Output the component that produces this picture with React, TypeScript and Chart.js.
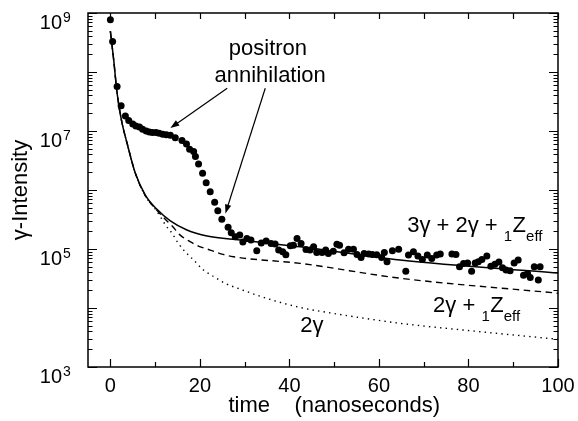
import React, { useEffect, useRef } from 'react';
import { Chart, registerables } from 'chart.js';

Chart.register(...registerables);

// ---- data (time in ns, gamma intensity) ----
const measuredTimes = [0.0, 0.5, 1.5, 2.4, 3.35, 4.1, 5.0, 5.7, 6.5, 7.2, 8.0, 8.7, 9.4, 10.2, 10.9, 11.7, 12.5, 13.4, 14.5, 16.0, 17.0, 17.7, 18.6, 19.0, 19.7, 20.6, 21.4, 22.3, 23.3, 24.0, 24.9, 26.3, 27.0, 27.9, 28.9, 29.6, 30.5, 31.4, 32.7, 33.7, 34.8, 35.9, 36.8, 37.6, 38.5, 39.2, 40.2, 40.9, 41.7, 42.6, 43.7, 44.6, 45.4, 46.1, 47.3, 48.1, 48.7, 49.8, 50.6, 51.2, 52.2, 53.2, 54.3, 55.1, 56.0, 56.7, 57.7, 58.5, 59.5, 60.6, 61.2, 61.8, 63.0, 64.4, 66.0, 66.6, 67.7, 68.7, 69.7, 70.8, 71.8, 72.9, 73.7, 76.3, 77.2, 78.0, 78.9, 79.8, 80.7, 81.5, 82.2, 83.0, 84.1, 85.0, 85.9, 86.8, 87.6, 88.4, 89.3, 90.2, 91.1, 92.3, 93.2, 93.8, 94.7, 95.6, 96.0];
const measuredIntensity = [7.7e8, 3.3e8, 5.7e7, 2.67e7, 1.8e7, 1.5e7, 1.32e7, 1.22e7, 1.17e7, 1.07e7, 1.0e7, 9.66e6, 9.4e6, 9.4e6, 9.2e6, 8.8e6, 8.6e6, 8.5e6, 7.7e6, 6.9e6, 6.0e6, 4.9e6, 4.5e6, 3.7e6, 2.76e6, 1.92e6, 1.33e6, 9.35e5, 6.2e5, 4.45e5, 3.2e5, 2.33e5, 1.88e5, 1.61e5, 1.72e5, 1.32e5, 1.51e5, 1.42e5, 9.3e4, 1.27e5, 1.36e5, 1.24e5, 1.21e5, 9.6e4, 8.96e4, 8.0e4, 1.13e5, 1.16e5, 1.51e5, 1.24e5, 9.8e4, 9.6e4, 1.09e5, 8.75e4, 8.75e4, 9.6e4, 8.4e4, 9.2e4, 1.2e5, 1.16e5, 8.6e4, 9.95e4, 9.95e4, 8.1e4, 7.2e4, 8.4e4, 8.2e4, 8.1e4, 8.0e4, 7.2e4, 8.75e4, 6.1e4, 9.3e4, 9.95e4, 4.2e4, 7.9e4, 8.96e4, 7.6e4, 6.65e4, 7.9e4, 6.9e4, 7.9e4, 8.2e4, 8.2e4, 8.1e4, 5.0e4, 5.7e4, 5.8e4, 4.2e4, 5.8e4, 6.1e4, 6.65e4, 7.6e4, 5.1e4, 5.5e4, 6.0e4, 4.8e4, 4.4e4, 4.27e4, 5.8e4, 6.5e4, 3.6e4, 3.85e4, 3.3e4, 5.0e4, 2.97e4, 5.0e4];

// model: 3γ + 2γ + 1Zeff (solid)
const fullModelTimes = [0, 0.74, 1.5, 2.46, 3.73, 5.58, 7.81, 10.4, 13.4, 17.1, 21.6, 29.0, 42.4, 64.7, 100];
const fullModelValues = [4.9e8, 1.6e8, 4.4e7, 1.54e7, 6.2e6, 1.92e6, 8.2e5, 4.7e5, 3.0e5, 2.1e5, 1.66e5, 1.42e5, 1.09e5, 6.5e4, 3.9e4];

// model: 2γ + 1Zeff (dashed)
const twoZModelTimes = [0, 0.74, 1.5, 2.46, 3.73, 5.58, 7.81, 10.0, 11.9, 13.8, 15.6, 17.9, 20.1, 22.3, 24.9, 27.5, 42.4, 64.7, 100];
const twoZModelValues = [4.9e8, 1.6e8, 4.4e7, 1.54e7, 6.2e6, 1.92e6, 8.0e5, 4.9e5, 3.4e5, 2.45e5, 1.72e5, 1.32e5, 1.09e5, 9.6e4, 8.2e4, 7.4e4, 5.7e4, 3.2e4, 1.78e4];

// model: 2γ (dotted)
const twoGammaTimes = [0, 0.74, 1.5, 2.46, 3.73, 5.58, 7.81, 10.0, 11.2, 12.3, 13.8, 15.2, 16.7, 18.6, 20.8, 23.1, 25.7, 28.6, 35.0, 42.4, 49.8, 57.3, 64.7, 82.1, 100];
const twoGammaValues = [4.9e8, 1.6e8, 4.4e7, 1.54e7, 6.2e6, 1.92e6, 7.9e5, 4.8e5, 3.5e5, 2.55e5, 1.84e5, 1.24e5, 9.0e4, 6.5e4, 4.4e4, 3.4e4, 2.6e4, 2.14e4, 1.45e4, 1.02e4, 8.1e3, 6.6e3, 5.5e3, 4.0e3, 2.95e3];

// axes
const xLabelTicks = [0, 20, 40, 60, 80, 100];
const xAllTicks = [0, 10, 20, 30, 40, 50, 60, 70, 80, 90, 100];
const yDecadeExponents = [3, 4, 5, 6, 7, 8, 9];
const yLabelExponents = [3, 5, 7, 9];
const xMin = -5;
const xMax = 100;
const yMin = 1e3;
const yMax = 1e9;

const xTitle = 'time    (nanoseconds)';
const yTitle = 'γ-Intensity';

// annotations (data coordinates)
const noteTexts = [
  { text: 'positron', x: 35.2, y: 1.96e8 },
  { text: 'annihilation', x: 35.7, y: 6.8e7 },
];
const noteArrows = [
  { x1: 26.1, y1: 5.3e7, x2: 13.4, y2: 1.12e7 },
  { x1: 34.6, y1: 5.3e7, x2: 25.7, y2: 4.0e5 },
];
const curveLabels = [
  { x: 66.3, y: 1.94e5, parts: [['3γ + 2γ + ', 0], ['1', 1], ['Z', 0], ['eff', 1]] },
  { x: 72.1, y: 8.5e3, parts: [['2γ + ', 0], ['1', 1], ['Z', 0], ['eff', 1]] },
  { x: 42.4, y: 3.9e3, parts: [['2γ', 0]] },
];

const FONT = '"Liberation Sans", Arial, Helvetica, sans-serif';

function toXY(xs: number[], ys: number[]) {
  return xs.map((x, i) => ({ x, y: ys[i] }));
}

const axesPlugin = {
  id: 'physicsAxes',
  afterDatasetsDraw(chart: any) {
    const { ctx, chartArea: a, scales } = chart;
    const xs = scales.x;
    const ys = scales.y;
    ctx.save();
    ctx.fillStyle = '#000';
    ctx.strokeStyle = '#000';

    // frame
    ctx.lineWidth = 1.5;
    ctx.strokeRect(a.left, a.top, a.right - a.left, a.bottom - a.top);

    // x ticks
    ctx.lineWidth = 1.2;
    ctx.beginPath();
    for (const v of xAllTicks) {
      const px = Math.round(xs.getPixelForValue(v)) + 0.5;
      const major = v % 20 === 0;
      ctx.moveTo(px, a.bottom);
      ctx.lineTo(px, a.bottom - (major ? 8 : 5));
      ctx.moveTo(px, a.top);
      ctx.lineTo(px, a.top + 6);
    }
    // y ticks (log)
    for (let i = 0; i < yDecadeExponents.length; i++) {
      const e = yDecadeExponents[i];
      for (let m = 1; m <= 9; m++) {
        if (e === yDecadeExponents[yDecadeExponents.length - 1] && m > 1) break;
        const py = Math.round(ys.getPixelForValue(m * Math.pow(10, e))) + 0.5;
        const len = m === 1 ? 9 : 4.5;
        ctx.moveTo(a.left, py);
        ctx.lineTo(a.left + len, py);
        ctx.moveTo(a.right, py);
        ctx.lineTo(a.right - len, py);
      }
    }
    ctx.stroke();

    // x tick labels
    ctx.font = `20px ${FONT}`;
    ctx.textAlign = 'center';
    ctx.textBaseline = 'alphabetic';
    for (const v of xLabelTicks) {
      ctx.fillText(String(v), xs.getPixelForValue(v), a.bottom + 25);
    }

    // y tick labels 10^n
    for (const e of yLabelExponents) {
      const py = ys.getPixelForValue(Math.pow(10, e));
      ctx.font = `20px ${FONT}`;
      ctx.textAlign = 'right';
      ctx.fillText('10', a.left - 26, py + 15.5);
      ctx.font = `14px ${FONT}`;
      ctx.textAlign = 'left';
      ctx.fillText(String(e), a.left - 25, py + 8.5);
    }

    // axis titles
    ctx.font = `22px ${FONT}`;
    ctx.textAlign = 'center';
    ctx.fillText(xTitle, xs.getPixelForValue(50), a.bottom + 45);
    ctx.save();
    ctx.translate(21, (a.top + a.bottom) / 2);
    ctx.rotate(-Math.PI / 2);
    ctx.textBaseline = 'middle';
    ctx.fillText(yTitle, 0, 0);
    ctx.restore();

    // annotation texts
    ctx.font = `22px ${FONT}`;
    ctx.textAlign = 'center';
    ctx.textBaseline = 'alphabetic';
    for (const n of noteTexts) {
      ctx.fillText(n.text, xs.getPixelForValue(n.x), ys.getPixelForValue(n.y));
    }

    // arrows
    ctx.lineWidth = 1.2;
    for (const ar of noteArrows) {
      const x1 = xs.getPixelForValue(ar.x1);
      const y1 = ys.getPixelForValue(ar.y1);
      const x2 = xs.getPixelForValue(ar.x2);
      const y2 = ys.getPixelForValue(ar.y2);
      const ang = Math.atan2(y2 - y1, x2 - x1);
      const c = Math.cos(ang);
      const s = Math.sin(ang);
      const L = 9;
      const W = 3.2;
      ctx.beginPath();
      ctx.moveTo(x1, y1);
      ctx.lineTo(x2 - c * L * 0.7, y2 - s * L * 0.7);
      ctx.stroke();
      ctx.beginPath();
      ctx.moveTo(x2, y2);
      ctx.lineTo(x2 - c * L - s * W, y2 - s * L + c * W);
      ctx.lineTo(x2 - c * L + s * W, y2 - s * L - c * W);
      ctx.closePath();
      ctx.fill();
    }

    // curve labels with subscripts
    ctx.textAlign = 'left';
    for (const lab of curveLabels) {
      let px = xs.getPixelForValue(lab.x);
      const py = ys.getPixelForValue(lab.y);
      for (const [t, sub] of lab.parts as [string, number][]) {
        ctx.font = sub ? `15px ${FONT}` : `22px ${FONT}`;
        ctx.fillText(t, px, py + (sub ? 9 : 0));
        px += ctx.measureText(t).width + (sub ? 0.5 : 0);
      }
    }

    ctx.restore();
  },
};

export default function App() {
  const canvasRef = useRef<HTMLCanvasElement | null>(null);

  useEffect(() => {
    const canvas = canvasRef.current;
    if (!canvas) return;
    const chart = new Chart(canvas, {
      type: 'scatter',
      data: {
        datasets: [
          {
            label: 'measured',
            data: toXY(measuredTimes, measuredIntensity),
            showLine: false,
            pointRadius: 3.5,
            pointBackgroundColor: '#000',
            pointBorderColor: '#000',
            pointBorderWidth: 0,
          },
          {
            label: '3γ + 2γ + 1Zeff',
            data: toXY(fullModelTimes, fullModelValues),
            showLine: true,
            pointRadius: 0,
            borderColor: '#000',
            borderWidth: 1.5,
            cubicInterpolationMode: 'monotone',
          },
          {
            label: '2γ + 1Zeff',
            data: toXY(twoZModelTimes, twoZModelValues),
            showLine: true,
            pointRadius: 0,
            borderColor: '#000',
            borderWidth: 1.4,
            borderDash: [6.5, 4.5],
            cubicInterpolationMode: 'monotone',
          },
          {
            label: '2γ',
            data: toXY(twoGammaTimes, twoGammaValues),
            showLine: true,
            pointRadius: 0,
            borderColor: '#000',
            borderWidth: 1.4,
            borderDash: [1.4, 4.2],
            cubicInterpolationMode: 'monotone',
          },
        ],
      },
      options: {
        responsive: false,
        animation: false,
        devicePixelRatio: 1,
        layout: { padding: { left: 88, right: 20, top: 13, bottom: 54 } },
        plugins: {
          legend: { display: false },
          tooltip: { enabled: false },
          title: { display: false },
        },
        scales: {
          x: { type: 'linear', min: xMin, max: xMax, display: false },
          y: { type: 'logarithmic', min: yMin, max: yMax, display: false },
        },
      },
      plugins: [axesPlugin],
    } as any);
    return () => chart.destroy();
  }, []);

  return (
    <div style={{ position: 'absolute', left: 0, top: 0, width: 578, height: 421, background: '#fff' }}>
      <canvas ref={canvasRef} width={578} height={421} style={{ display: 'block' }} />
    </div>
  );
}
